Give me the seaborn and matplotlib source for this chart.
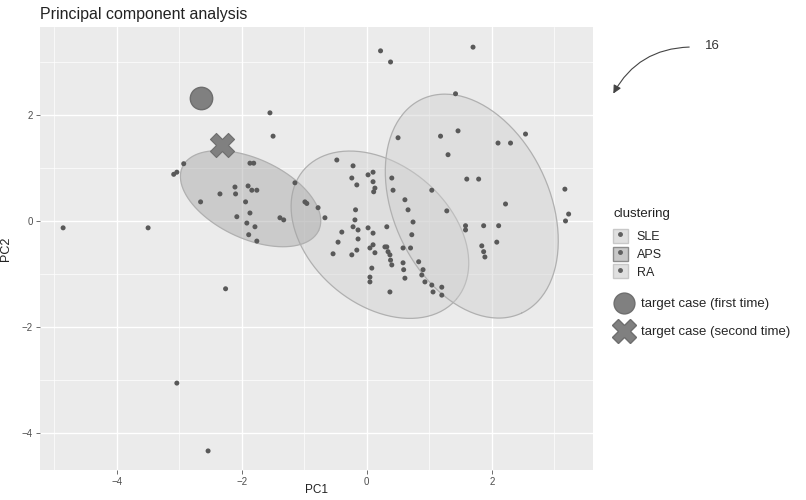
import numpy as np
import pandas as pd
import matplotlib
matplotlib.use("Agg")
import matplotlib.pyplot as plt
from matplotlib.lines import Line2D
from matplotlib.patches import Patch
import seaborn as sns

# PCA scores, per cluster
sle_pc1 = [-0.48, -0.22, -0.24, -0.16, 0.02, 0.10, 0.10, 0.13, 0.11, 0.40, 0.42, 0.61,
           0.66, 0.74, 0.72, -0.18, -0.19, -0.22, -0.14, -0.40, 0.02, 0.10, 0.32, -0.46,
           -0.14, -0.54, -0.24, -0.16, 0.05, 0.10, 0.13, 0.29, 0.34, 0.38, 0.40, 0.08,
           0.05, 0.37, 0.58, 0.70, 0.83, 0.58, 0.59, 0.61, 0.90, 0.88, 0.93, 1.04, 1.06,
           1.20, 1.20, -0.67, 0.05, 0.32, 0.37]
sle_pc2 = [1.15, 1.04, 0.81, 0.68, 0.87, 0.92, 0.74, 0.62, 0.55, 0.81, 0.58, 0.40,
           0.21, -0.02, -0.26, 0.21, 0.02, -0.11, -0.17, -0.21, -0.13, -0.23, -0.11, -0.40,
           -0.34, -0.62, -0.64, -0.55, -0.51, -0.45, -0.60, -0.49, -0.58, -0.74, -0.83, -0.89,
           -1.06, -1.34, -0.51, -0.51, -0.77, -0.79, -0.92, -1.08, -0.92, -1.02, -1.15, -1.21, -1.34,
           -1.25, -1.40, 0.06, -1.15, -0.49, -0.64]

aps_pc1 = [-2.93, -3.04, -3.09, -1.87, -1.81, -2.35, -2.11, -2.10, -1.90, -1.84, -1.76,
           -2.66, -1.94, -2.08, -1.87, -1.92, -1.79, -1.89, -1.76, -1.39, -1.33, -1.15,
           -0.99, -0.96, -0.78, -1.55, -1.50, -4.86, -3.50, -2.26, -3.04, -2.54]
aps_pc2 = [1.08, 0.92, 0.88, 1.09, 1.09, 0.51, 0.64, 0.51, 0.66, 0.58, 0.58,
           0.36, 0.36, 0.08, 0.15, -0.04, -0.11, -0.26, -0.38, 0.06, 0.02, 0.72,
           0.36, 0.33, 0.25, 2.04, 1.60, -0.13, -0.13, -1.28, -3.06, -4.34]

ra_pc1 = [0.22, 0.38, 1.70, 1.42, 2.54, 0.50, 1.18, 1.46, 2.10, 2.30, 1.30, 1.79, 1.60,
          3.17, 2.22, 3.23, 3.18, 1.87, 2.11, 2.08, 1.84, 1.89, 1.87, 1.04, 1.28, 1.58, 1.58]
ra_pc2 = [3.21, 3.00, 3.28, 2.40, 1.64, 1.57, 1.60, 1.70, 1.47, 1.47, 1.25, 0.79, 0.79,
          0.60, 0.32, 0.13, 0.00, -0.09, -0.09, -0.40, -0.47, -0.68, -0.58, 0.58, 0.19, -0.09, -0.17]

clusters = ["SLE", "APS", "RA"]

# ellipse per cluster: centre and the two semi-axis vectors (PC1, PC2 units)
ell_cx = [0.21, -1.86, 1.68]
ell_cy = [-0.26, 0.42, 0.28]
ell_ax = [(1.226, -1.213), (1.09, -0.60), (0.798, -2.019)]
ell_bx = [(0.72, 1.011), (0.27, 0.68), (1.131, 0.623)]

target_first = (-2.66, 2.32)
target_second = (-2.32, 1.43)

df = pd.concat([
    pd.DataFrame({"PC1": sle_pc1, "PC2": sle_pc2, "clustering": "SLE"}),
    pd.DataFrame({"PC1": aps_pc1, "PC2": aps_pc2, "clustering": "APS"}),
    pd.DataFrame({"PC1": ra_pc1, "PC2": ra_pc2, "clustering": "RA"}),
], ignore_index=True)

sns.set_theme(style="darkgrid", rc={
    "axes.facecolor": "#ebebeb",
    "grid.color": "white",
    "axes.edgecolor": "#ebebeb",
})
plt.rcParams["font.family"] = ["Liberation Sans", "DejaVu Sans"]

fig = plt.figure(figsize=(8.06, 5.0), dpi=100)
ax = fig.add_axes([40 / 806, 30 / 500, 553 / 806, 443 / 500])

fills = {"SLE": ("#cfcfcf", 0.45), "RA": ("#cfcfcf", 0.45), "APS": ("#a5a5a5", 0.45)}
t = np.linspace(0, 2 * np.pi, 200)
for name, cx, cy, a, b in zip(clusters, ell_cx, ell_cy, ell_ax, ell_bx):
    ex = cx + a[0] * np.cos(t) + b[0] * np.sin(t)
    ey = cy + a[1] * np.cos(t) + b[1] * np.sin(t)
    col, alpha = fills[name]
    ax.fill(ex, ey, color=col, alpha=alpha, lw=0, zorder=2)
    ax.plot(ex, ey, color="#b0b0b0", lw=0.9, zorder=2)

sns.scatterplot(data=df, x="PC1", y="PC2", hue="clustering",
                palette={"SLE": "#595959", "APS": "#595959", "RA": "#595959"},
                s=13, linewidth=0, legend=False, ax=ax, zorder=3)

ax.scatter(*target_first, s=260, color="#808080", edgecolor="#6e6e6e", lw=1, zorder=4)
ax.scatter(*target_second, s=300, marker="X", color="#808080", edgecolor="#6e6e6e", lw=0.8, zorder=4)

ax.set_xlim(-5.23, 3.62)
ax.set_ylim(-4.70, 3.66)
ax.set_xticks([-4, -2, 0, 2])
ax.set_yticks([-4, -2, 0, 2])
ax.set_xticks([-5, -3, -1, 1, 3], minor=True)
ax.set_yticks([-3, -1, 1, 3], minor=True)
ax.grid(which="major", color="white", lw=1.0)
ax.grid(which="minor", color="white", lw=0.5)
ax.tick_params(which="major", length=3, width=0.6, color="#555555",
               labelsize=7, labelcolor="#4d4d4d", pad=2, bottom=True, left=True)
ax.tick_params(which="minor", length=0)
for s in ax.spines.values():
    s.set_visible(False)

ax.set_xlabel("PC1", fontsize=8.5, color="#222222", va="center")
ax.set_ylabel("PC2", fontsize=9, color="#222222")
ax.xaxis.set_label_coords(0.5, -0.045)
ax.yaxis.set_label_coords(-0.05, 0.5)
ax.set_title("Principal component analysis", loc="left", fontsize=11.5, pad=6, color="#222222")

# legend: cluster keys (box + dot), then the two target markers
fig.text(613 / 806, 1 - 214 / 500, "clustering", fontsize=9.5, ha="left", va="center",
         color="#222222")
box_edges = {"SLE": "#c8c8c8", "APS": "#8c8c8c", "RA": "#c8c8c8"}
box_fill = {"SLE": "#e0e0e0", "APS": "#c8c8c8", "RA": "#e0e0e0"}
handles = [(Patch(facecolor=box_fill[c], edgecolor=box_edges[c], lw=1),
            Line2D([], [], ls="", marker="o", ms=2.5, color="#606060")) for c in clusters]
leg1 = ax.legend(handles, clusters, loc="upper left",
                 bbox_to_anchor=(1.036, 0.545), frameon=False, fontsize=9,
                 handlelength=1.2, handleheight=1.35, borderpad=0,
                 labelspacing=0.3, borderaxespad=0, handletextpad=0.7)
ax.add_artist(leg1)
h2 = [Line2D([], [], ls="", marker="o", ms=15, color="#808080", mec="#6e6e6e"),
      Line2D([], [], ls="", marker="X", ms=17, color="#808080", mec="#6e6e6e"),]
ax.legend(h2, ["target case (first time)", "target case (second time)"],
          loc="upper left", bbox_to_anchor=(1.023, 0.40), frameon=False,
          fontsize=9.5, handlelength=2.0, labelspacing=1.2, borderaxespad=0,
          handletextpad=0.3)

# reference numeral with curved arrow
fig.text(705 / 806, 1 - 46 / 500, "16", fontsize=9.5, ha="left", va="center", color="#333333")
ax.annotate("", xy=(612 / 806, 1 - 96 / 500), xycoords="figure fraction",
            xytext=(692 / 806, 1 - 47 / 500), textcoords="figure fraction",
            arrowprops=dict(arrowstyle="-|>", color="#444444", lw=0.8,
                            connectionstyle="arc3,rad=0.3", mutation_scale=12),
            annotation_clip=False)

fig.savefig("out.png", dpi=100)
